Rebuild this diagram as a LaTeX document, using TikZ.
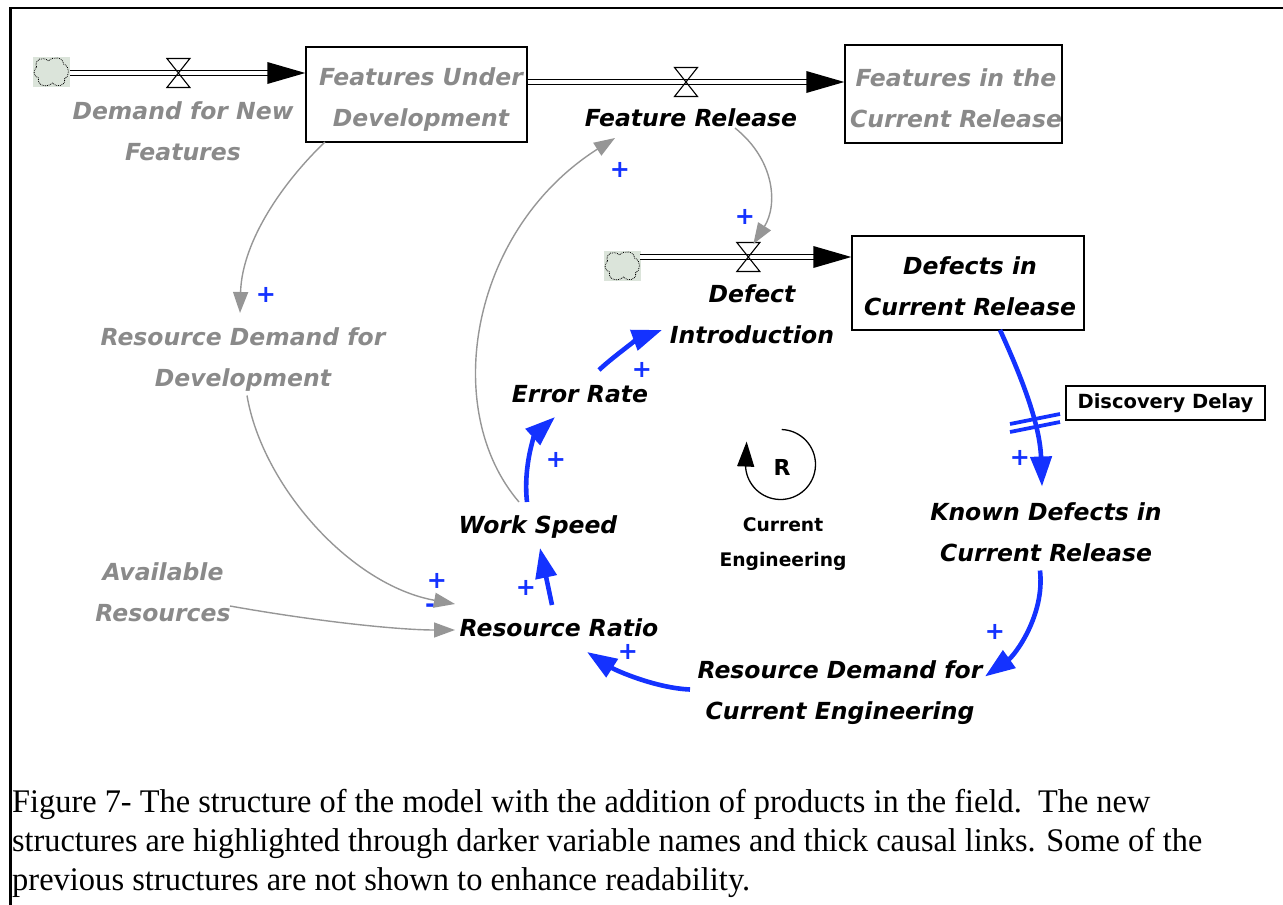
\documentclass[tikz,border=0pt]{standalone}
\usepackage{fontspec}
\usepackage{graphicx}
\setmainfont{Liberation Serif}
\newfontfamily\cfont{DejaVu Sans}
\usetikzlibrary{arrows.meta,calc}

\definecolor{inkgray}{RGB}{138,138,138}
\definecolor{linkgray}{RGB}{150,150,150}
\definecolor{linkblue}{RGB}{20,50,255}
\definecolor{cloudfill}{RGB}{219,228,218}

\tikzset{
  varname/.style={font=\cfont\bfseries\itshape\fontsize{23.5}{41}\selectfont, align=center, inner sep=2pt},
  oldvar/.style={varname, text=inkgray},
  newvar/.style={varname, text=black},
  stockbox/.style={draw, line width=1.4pt, inner sep=0pt},
  pipe/.style={draw=black, double=white, double distance=3.6pt, line width=1.2pt},
  glink/.style={draw=linkgray, line width=1.4pt, -{Triangle[length=21pt,width=15pt]}},
  blink/.style={draw=linkblue, line width=4.6pt, -{Triangle[length=30pt,width=21pt]}},
  pol/.style={font=\cfont\bfseries\fontsize{24}{24}\selectfont, text=linkblue, inner sep=0pt},
  valve/.pic={\draw[line width=1.1pt, line join=miter] (-11.5,-14.5) -- (11.5,-14.5) -- (-11.5,14.5) -- (11.5,14.5) -- cycle;},
  cloudsrc/.pic={
    \fill[cloudfill] (-18.5,-15) rectangle (18.5,15);
    \draw[line width=0.8pt, densely dotted]
      (-15,-5) .. controls (-18,-13) and (-8,-16) .. (-3,-11)
      .. controls (1,-16) and (12,-15) .. (12,-8)
      .. controls (19,-6) and (18,5) .. (13,7)
      .. controls (15,14) and (4,16) .. (1,11)
      .. controls (-4,16) and (-15,14) .. (-13,6)
      .. controls (-19,4) and (-18,-2) .. (-15,-5) -- cycle;
  },
}

\begin{document}
\begin{tikzpicture}[x=1pt,y=-1pt]
\useasboundingbox (0,0) rectangle (1283,905);
\draw[line width=2.5pt] (10.5,905) -- (10.5,8) -- (1283,8);

% stocks
\node[stockbox, minimum width=221pt, minimum height=95pt] (fud) at (416.5,94.5) {};
\node[oldvar] (fudname) at (421,100) {Features Under\\Development};
\node[stockbox, minimum width=217pt, minimum height=98pt] (fcr) at (953.5,94) {};
\node[oldvar] (fcrname) at (956,98) {Features in the\\Current Release};
\node[stockbox, minimum width=232pt, minimum height=94pt] (dcr) at (968,283) {};
\node[newvar] (dcrname) at (970,286) {Defects in\\Current Release};

% sources
\coordinate (src1) at (51.5,73);
\coordinate (src2) at (622.5,257);
\pic at ($(src1)+(0,-1)$) {cloudsrc};
\pic at ($(src2)+(0,9)$) {cloudsrc};

% flow pipes
\coordinate (in1) at (fud.west |- src1);
\draw[pipe] ($(src1)+(18.5,0)$) -- ($(in1)+(-36,0)$);
\fill ($(in1)+(-38,-11)$) -- (in1) -- ($(in1)+(-38,11)$) -- cycle;
\pic at ($(src1)!0.5!(in1)$) {valve};

\coordinate (out2) at ($(fud.east)+(0,-12.5)$);
\coordinate (in2) at (fcr.west |- out2);
\draw[pipe] (out2) -- ($(in2)+(-36,0)$);
\fill ($(in2)+(-38,-11)$) -- (in2) -- ($(in2)+(-38,11)$) -- cycle;
\pic at ($(out2)!0.5!(in2)$) {valve};

\coordinate (in3) at (dcr.west |- src2);
\coordinate (v3) at ($(src2)!0.55!(in3)$);
\draw[pipe] ($(src2)+(17.5,0)$) -- ($(in3)+(-36,0)$);
\fill ($(in3)+(-38,-11)$) -- (in3) -- ($(in3)+(-38,11)$) -- cycle;
\pic at (v3) {valve};

% flow names
\node[oldvar] (dnf) at (183,131) {Demand for New\\Features};
\node[newvar] (fr) at (691,118) {Feature Release};
\node[newvar] (di) at (752,314) {Defect\\Introduction};

% auxiliaries
\node[oldvar] (rdd) at (243,360) {Resource Demand for\\Development};
\node[oldvar] (ar) at (163,592) {Available\\Resources};
\node[newvar] (rr) at (559,628) {Resource Ratio};
\node[newvar] (ws) at (538,527) {Work Speed};
\node[newvar] (er) at (580,394) {Error Rate};
\node[newvar] (kd) at (1046,532.5) {Known Defects in\\Current Release};
\node[newvar] (rdce) at (840,692.5) {Resource Demand for\\Current Engineering};
\node[draw, line width=1.4pt, minimum width=199pt, minimum height=34pt, inner sep=0pt,
      font=\cfont\bfseries\fontsize{19.5}{19.5}\selectfont] (dd) at (1165.5,403) {Discovery Delay};

% polarities
\node[pol] (pl1) at (266,295) {+};
\node[pol] (pl2) at (620,170) {+};
\node[pol] (pl3) at (745,217) {+};
\node[pol] (pl4) at (437,581) {+};
\node[pol] (mi1) at (430,608) {-};
\node[pol] (pl5) at (526,588) {+};
\node[pol] (pl6) at (556,460) {+};
\node[pol] (pl7) at (642,370) {+};
\node[pol] (pl8) at (1020,458) {+};
\node[pol] (pl9) at (995,632) {+};
\node[pol] (pl10) at (628,652) {+};

% thin causal links (earlier structure)
\draw[glink] ($(fud.center)+(-91.5,47.5)$) .. controls (285,180) and (242,240) .. ($(rdd.center)+(-3,-47)$);
\draw[glink] ($(rdd.center)+(4,35.5)$) .. controls (262,485) and (350,585) .. ($(rr.center)+(-104,-24)$);
\draw[glink] ($(ar.center)+(67,14)$) .. controls (320,622) and (400,630) .. ($(rr.center)+(-104,2)$);
\draw[glink] ($(ws.center)+(-19,-25)$) .. controls (440,410) and (470,230) .. ($(fr.center)+(-76,20)$);
\draw[glink] ($(fr.center)+(44,10)$) .. controls (775,160) and (778,205) .. ($(v3)+(5,-13)$);

% thick causal links (new structure)
\draw[blink] ($(rr.center)+(-7,-23)$) -- ($(ws.center)+(2,21)$);
\draw[blink] ($(ws.center)+(-11,-25)$) .. controls (523,465) and (535,435) .. ($(er.center)+(-25,23)$);
\draw[blink] ($(er.center)+(19,-24)$) .. controls (615,355) and (640,338) .. ($(di.center)+(-90,16)$);
\draw[blink] ($(dcr.center)+(32,47)$) .. controls (1022,378) and (1040,425) .. ($(kd.center)+(-4,-46)$);
\draw[blink] ($(kd.center)+(-6,38)$) .. controls (1045,615) and (1015,655) .. ($(rdce.center)+(145,-16)$);
\draw[blink] ($(rdce.center)+(-150,-3)$) .. controls (655,688) and (615,670) .. ($(rr.center)+(28,24)$);

% delay mark on the discovery link
\coordinate (dmark) at (1035,416);
\draw[linkblue, line width=3.8pt] ($(dmark)+(-25,8)$) -- ($(dmark)+(25,-2)$);
\draw[linkblue, line width=3.8pt] ($(dmark)+(-25,16)$) -- ($(dmark)+(25,6)$);

% loop identifier
\coordinate (loopc) at (780.5,464.5);
\draw[line width=1.3pt, -{Triangle[length=25pt,width=17pt]}] ($(loopc)+(-88:35)$) arc[start angle=-88, end angle=175, radius=35] -- ++(1,-26);
\node[font=\cfont\bfseries\fontsize{22}{22}\selectfont] (loopr) at (782,467) {R};
\node[font=\cfont\bfseries\fontsize{18.7}{35}\selectfont, align=center] (loopname) at (783,544.5) {Current\\Engineering};

% caption
\node[anchor=base west, inner sep=0pt, font=\fontsize{33}{38}\selectfont] (cap1) at (12,812)
  {\resizebox{1138pt}{\height}{Figure 7- The structure of the model with the addition of products in the field.\ \ The new}};
\node[anchor=base west, inner sep=0pt, font=\fontsize{33}{38}\selectfont] (cap2) at (12,851)
  {\resizebox{1190pt}{\height}{structures are highlighted through darker variable names and thick causal links. Some of the}};
\node[anchor=base west, inner sep=0pt, font=\fontsize{33}{38}\selectfont] (cap3) at (12,890)
  {\resizebox{738pt}{\height}{previous structures are not shown to enhance readability.}};
\end{tikzpicture}
\end{document}
